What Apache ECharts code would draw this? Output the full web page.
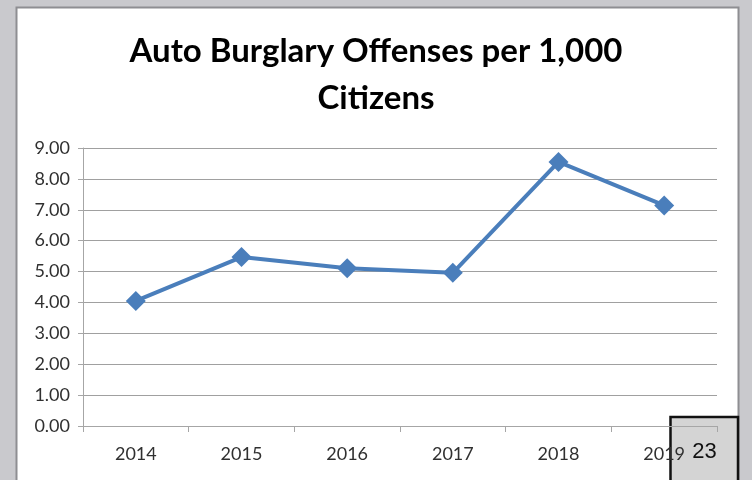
<!DOCTYPE html>
<html><head><meta charset="utf-8">
<script src="https://cdn.jsdelivr.net/npm/echarts@6/dist/echarts.min.js"></script>
<style>html,body{margin:0;padding:0;background:#c9c9cd;}#c{width:752px;height:480px;}</style>
</head><body><div id="c"></div>
<script>
const titleText = 'Auto Burglary Offenses per 1,000\nCitizens';
const years = ['2014','2015','2016','2017','2018','2019'];
const offenses = [4.05, 5.47, 5.11, 4.96, 8.55, 7.14];
const yTicks = {min: 0, max: 9, interval: 1};
const pageLabel = '23';

const chart = echarts.init(document.getElementById('c'), null, {renderer: 'canvas'});
chart.setOption({
  backgroundColor: '#c9c9cd',
  animation: false,
  graphic: [
    {type: 'rect', z: -10, shape: {x: 16.5, y: 7.5, width: 722, height: 480}, style: {fill: '#ffffff', stroke: '#8e8e92', lineWidth: 2}},
    {type: 'group', z: 100, children: [
      {type: 'rect', shape: {x: 670.5, y: 417, width: 67.5, height: 70}, style: {fill: '#d4d4d4', stroke: '#111111', lineWidth: 2.5}},
      {type: 'text', style: {x: 704.5, y: 452, text: pageLabel, font: '22px "Liberation Sans", Arial, sans-serif', fill: '#111', align: 'center', verticalAlign: 'middle'}}
    ]}
  ],
  title: {
    text: titleText, left: 'center', top: 23,
    textStyle: {fontFamily: 'Lato, "Open Sans", sans-serif', fontWeight: 'bold', fontSize: 33, color: '#000', lineHeight: 47}
  },
  grid: {left: 83, right: 35, top: 148, bottom: 54},
  xAxis: {
    type: 'category', data: years, boundaryGap: true,
    axisLine: {lineStyle: {color: '#a6a6a6', width: 1}},
    axisTick: {show: true, length: 6, lineStyle: {color: '#a6a6a6'}},
    axisLabel: {color: '#303030', fontSize: 18, margin: 19, fontFamily: 'Lato, "Open Sans", sans-serif'}
  },
  yAxis: {
    type: 'value', min: yTicks.min, max: yTicks.max, interval: yTicks.interval,
    axisLine: {show: true, lineStyle: {color: '#a6a6a6'}},
    axisTick: {show: true, length: 5, lineStyle: {color: '#a6a6a6'}},
    splitLine: {lineStyle: {color: '#a0a0a0', width: 1}},
    axisLabel: {color: '#303030', fontSize: 18, margin: 13, fontFamily: 'Lato, "Open Sans", sans-serif', formatter: v => v.toFixed(2)}
  },
  series: [{
    type: 'line', data: offenses,
    lineStyle: {color: '#4a7ebb', width: 4},
    itemStyle: {color: '#4a7ebb'},
    symbol: 'diamond', symbolSize: 20
  }]
});
</script></body></html>
